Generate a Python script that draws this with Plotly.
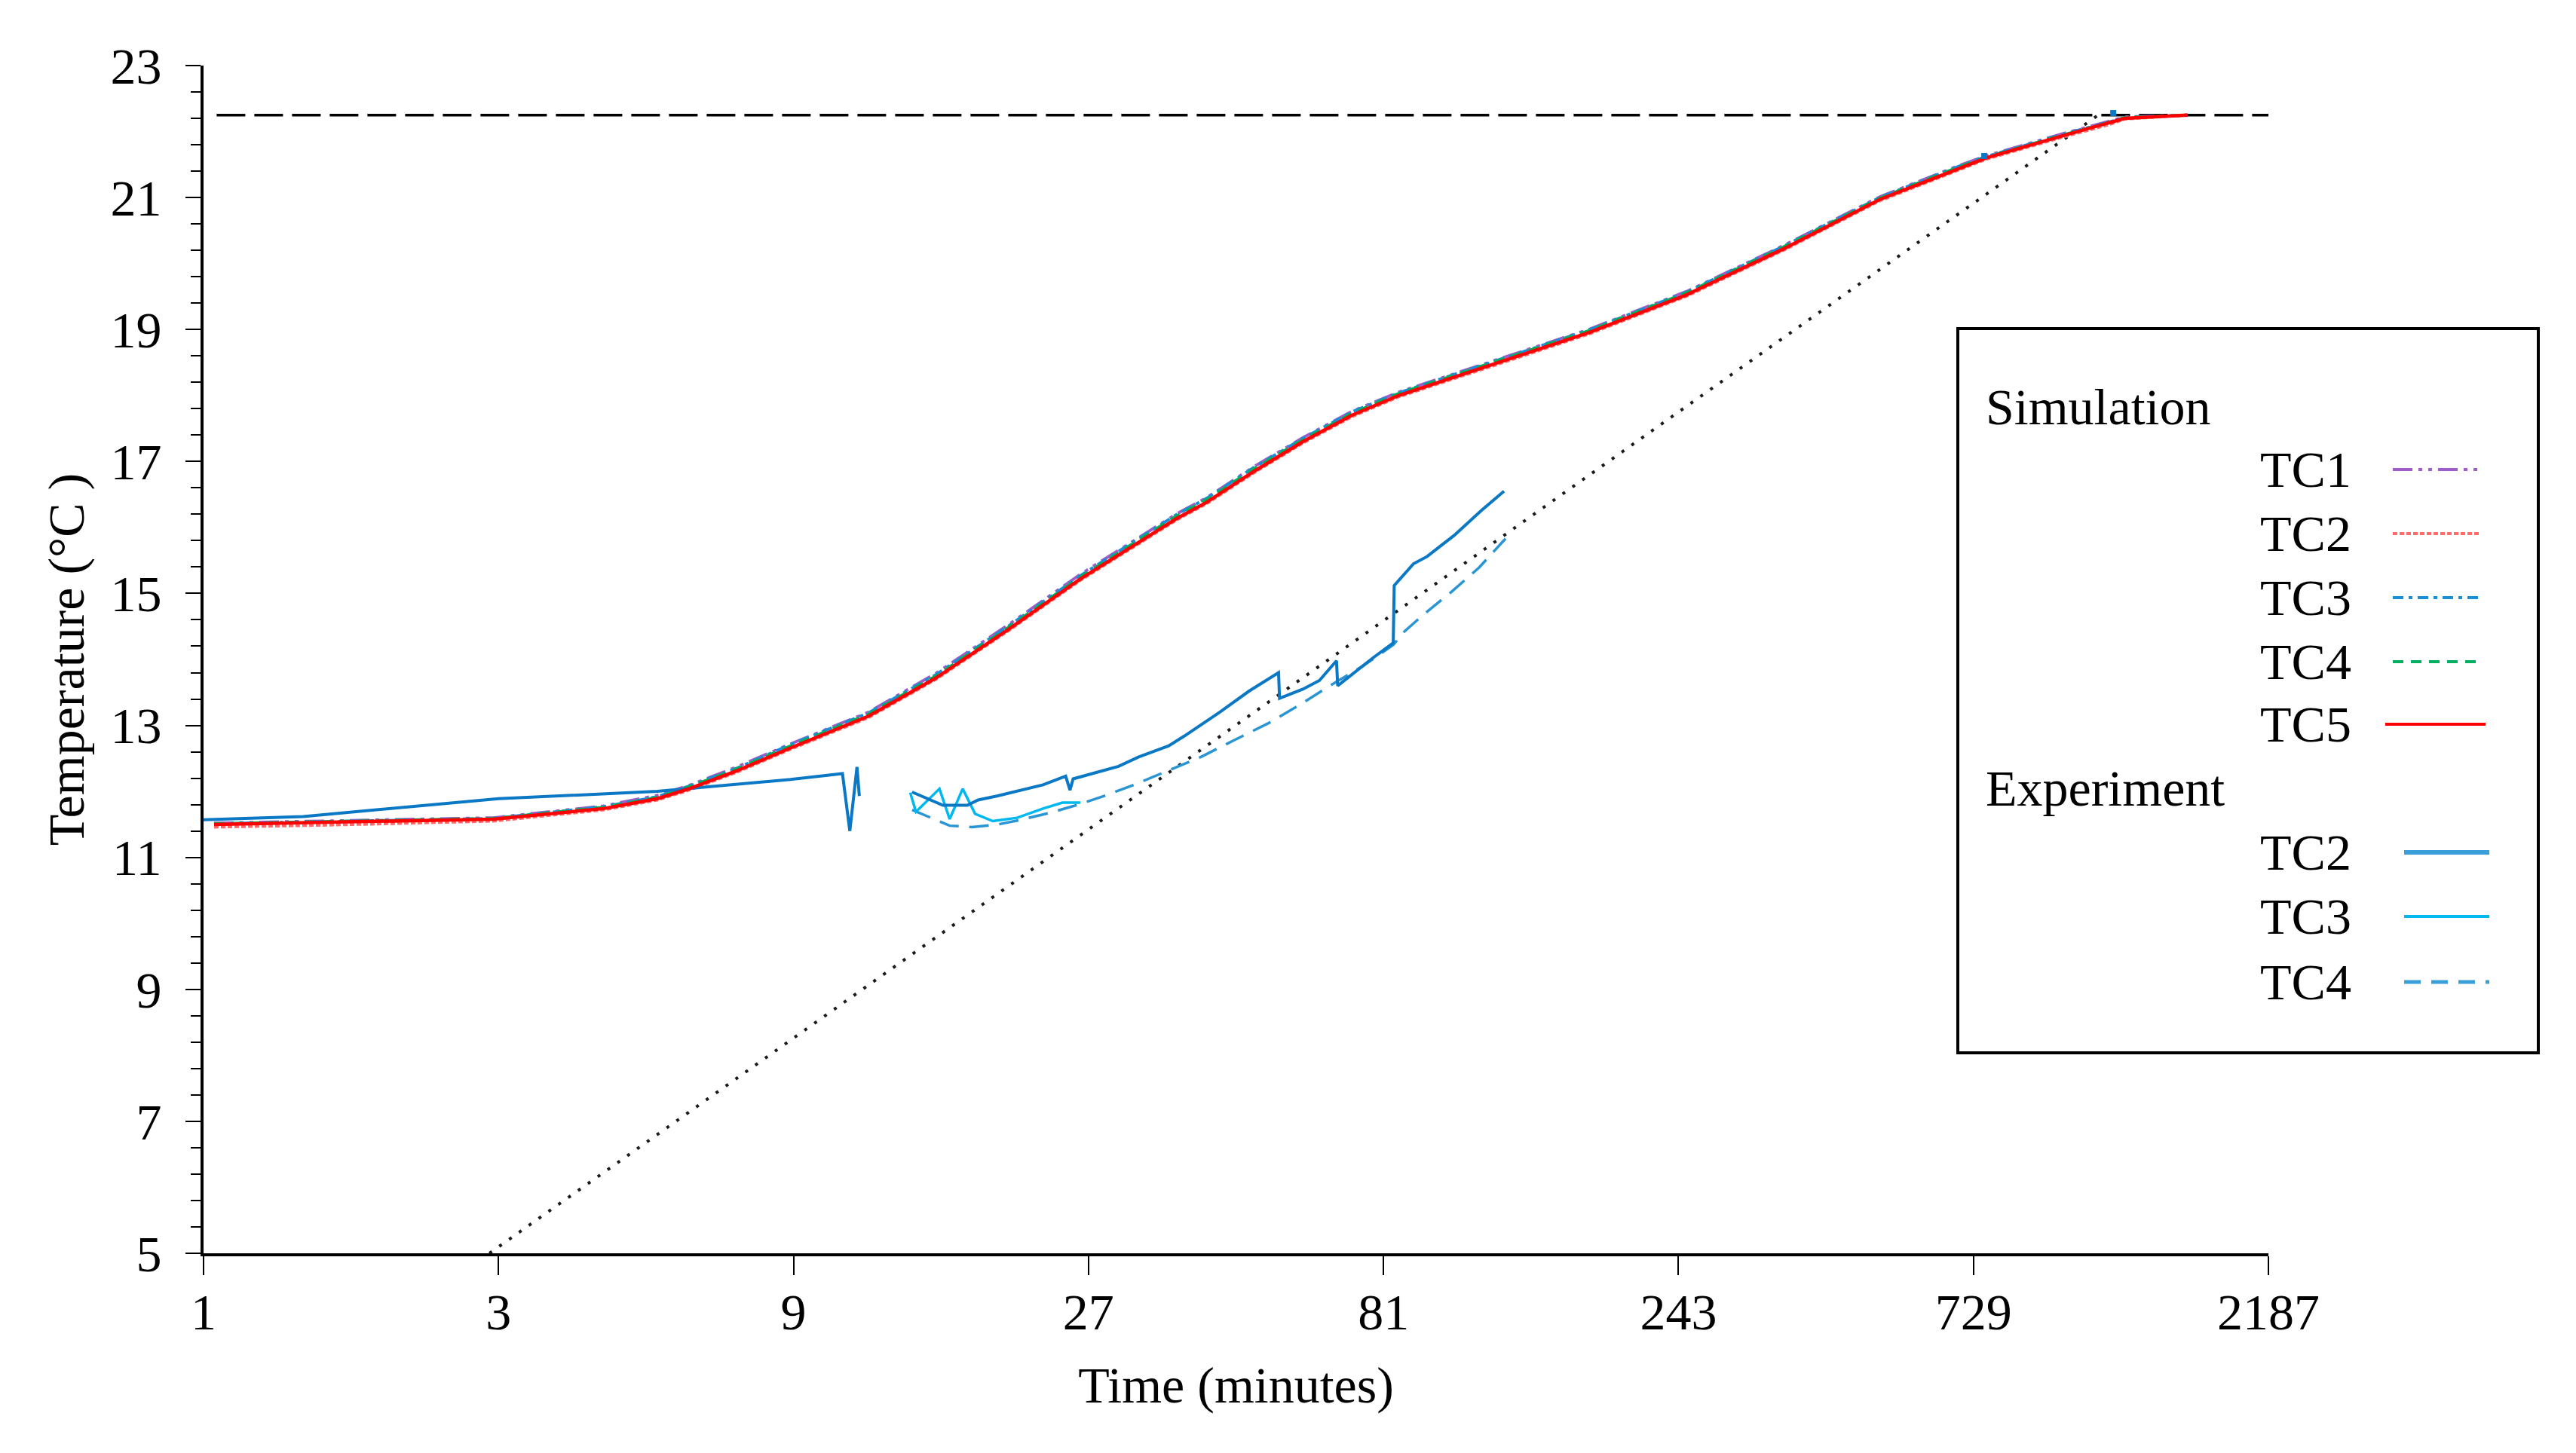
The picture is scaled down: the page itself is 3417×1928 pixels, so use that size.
import plotly.graph_objects as go

# ---------------- data ----------------
sim_time = [1.04, 1.59, 2.94, 4.44, 5.42, 6.10, 7.28, 8.85, 11.9, 15.3, 20.0, 26.2, 37.4,
            41.9, 50.0, 60.0, 72.0, 85.7, 122.7, 175, 251, 359, 514, 693, 764, 1019, 1213, 1280, 1619]
sim_tc5 = [11.50, 11.53, 11.58, 11.74, 11.89, 12.04, 12.31, 12.65, 13.14, 13.72, 14.45, 15.22, 16.13,
           16.38, 16.85, 17.30, 17.70, 18.00, 18.48, 18.96, 19.53, 20.22, 20.97, 21.45, 21.60, 21.94, 22.13, 22.20, 22.25]
sim_tc1 = [11.52, 11.55, 11.60, 11.78, 11.94, 12.09, 12.37, 12.71, 13.20, 13.79, 14.52, 15.29, 16.20,
           16.45, 16.92, 17.36, 17.76, 18.05, 18.53, 19.01, 19.58, 20.27, 21.01, 21.49, 21.63, 21.97, 22.16, 22.22, 22.25]
sim_tc2 = [11.46, 11.49, 11.55, 11.72, 11.87, 12.02, 12.29, 12.63, 13.12, 13.70, 14.43, 15.20, 16.11,
           16.36, 16.83, 17.28, 17.68, 17.98, 18.46, 18.94, 19.51, 20.20, 20.95, 21.43, 21.58, 21.92, 22.11, 22.19, 22.25]
sim_tc3 = [11.51, 11.54, 11.59, 11.77, 11.92, 12.08, 12.35, 12.70, 13.19, 13.77, 14.50, 15.27, 16.19,
           16.44, 16.91, 17.35, 17.75, 18.04, 18.52, 19.00, 19.57, 20.26, 21.00, 21.48, 21.62, 21.96, 22.15, 22.21, 22.25]
sim_tc4 = [11.51, 11.54, 11.59, 11.76, 11.91, 12.07, 12.34, 12.68, 13.17, 13.75, 14.48, 15.25, 16.17,
           16.42, 16.89, 17.33, 17.73, 18.03, 18.51, 18.99, 19.56, 20.25, 20.99, 21.47, 21.61, 21.95, 22.14, 22.21, 22.25]

exp_tc2_time = [1.0, 1.45, 3.0, 5.42, 8.9, 10.8, 11.1, 11.4, 11.5, None,
                14.0, 15.7, 17.2, 17.9, 19.2, 20.7, 22.8, 24.8, 25.2, 25.5, 27.5, 30.2, 32.5, 36.4,
                38.6, 44.0, 49.1, 54.8, 55.0, 60.0, 63.8, 68.0, 68.3, 77.8, 84.0, 84.3, 90.6, 95.3,
                105.4, 116.4, 126.9]
exp_tc2_temp = [11.57, 11.62, 11.89, 12.00, 12.18, 12.27, 11.40, 12.37, 11.93, None,
                11.99, 11.79, 11.79, 11.87, 11.93, 12.00, 12.10, 12.23, 12.02, 12.19, 12.27, 12.38, 12.52, 12.69,
                12.84, 13.20, 13.52, 13.80, 13.41, 13.55, 13.68, 13.98, 13.60, 14.02, 14.25, 15.12, 15.45, 15.56,
                15.88, 16.25, 16.55]
exp_tc2_late_time = [759, 1227]
exp_tc2_late_temp = [21.63, 22.28]

exp_tc3_time = [13.9, 14.2, 15.5, 16.1, 16.9, 17.7, 18.9, 20.7, 22.8, 24.5, 26.2]
exp_tc3_temp = [11.98, 11.69, 12.04, 11.58, 12.04, 11.66, 11.55, 11.60, 11.74, 11.83, 11.83]

exp_tc4_time = [14.0, 15.0, 16.1, 17.5, 19.3, 21.0, 23.5, 26.0, 29.0, 32.0, 36.4, 41.0, 46.3,
                52.7, 59.5, 67.1, 75.0, 84.0, 87.7, 93.5, 104.5, 115.6, 127.6]
exp_tc4_temp = [11.72, 11.60, 11.48, 11.46, 11.50, 11.57, 11.68, 11.80, 11.95, 12.10, 12.32, 12.52, 12.77,
                13.03, 13.32, 13.63, 13.90, 14.22, 14.43, 14.66, 15.03, 15.39, 15.83]

fit_time = [2.9, 1160]
fit_temp = [5.0, 22.25]
target_time = [1.05, 2187]
target_temp = [22.25, 22.25]

x_tickvals = [1, 3, 9, 27, 81, 243, 729, 2187]
x_ticktext = ["1", "3", "9", "27", "81", "243", "729", "2187"]
y_tickvals = [5, 7, 9, 11, 13, 15, 17, 19, 21, 23]

# ---------------- styling ----------------
FONT = "Times New Roman, Liberation Serif, serif"
OFF = 8                     # default page body margin
PAGE_W, PAGE_H = 3417, 1928
W, H = PAGE_W - 2 * OFF, PAGE_H - 2 * OFF
# plot area in page pixels
L, R, T, B = 270, 3009, 87, 1663

def px_x(px):
    return (px - L) / (R - L)

def px_y(py):
    return (B - py) / (B - T)

sim_styles = [
    ("TC1", sim_tc1, "#a05cc8", "26px,8px,5px,8px,5px,8px"),
    ("TC2", sim_tc2, "#ff6a6a", "6px,3px"),
    ("TC3", sim_tc3, "#1a8fd8", "14px,7px,5px,7px"),
    ("TC4", sim_tc4, "#00b060", "14px,10px"),
]

fig = go.Figure()

fig.add_trace(go.Scatter(x=target_time, y=target_temp, mode="lines",
                         line=dict(color="black", width=3.5, dash="38px,12px"),
                         showlegend=False, name="Target"))
fig.add_trace(go.Scatter(x=fit_time, y=fit_temp, mode="lines",
                         line=dict(color="#1a1a1a", width=4, dash="4px,12px"),
                         showlegend=False, name="Fit"))

for name, ys, col, dash in sim_styles:
    fig.add_trace(go.Scatter(x=sim_time, y=ys, mode="lines", name="Sim " + name,
                             line=dict(color=col, width=4, dash=dash), showlegend=False))

fig.add_trace(go.Scatter(x=exp_tc4_time, y=exp_tc4_temp, mode="lines", name="Exp TC4",
                         line=dict(color="#2a95d5", width=3.5, dash="26px,14px"), showlegend=False))
fig.add_trace(go.Scatter(x=exp_tc3_time, y=exp_tc3_temp, mode="lines", name="Exp TC3",
                         line=dict(color="#00b8f0", width=3.5), showlegend=False))
fig.add_trace(go.Scatter(x=exp_tc2_time, y=exp_tc2_temp, mode="lines", name="Exp TC2",
                         line=dict(color="#0a78c4", width=4), showlegend=False, connectgaps=False))

fig.add_trace(go.Scatter(x=sim_time, y=sim_tc5, mode="lines", name="Sim TC5",
                         line=dict(color="#ff0000", width=4.5), showlegend=False))
fig.add_trace(go.Scatter(x=exp_tc2_late_time, y=exp_tc2_late_temp, mode="markers", name="Exp TC2 late",
                         marker=dict(color="#0a78c4", size=8, symbol="square"), showlegend=False))

# ---------------- manual legend ----------------
shapes = []
annotations = []
shapes.append(dict(type="rect", xref="paper", yref="paper",
                   x0=px_x(2597), x1=px_x(3367), y0=px_y(1397), y1=px_y(436),
                   line=dict(color="black", width=4), fillcolor="white", layer="above"))

def label(text, px, py):
    annotations.append(dict(text=text, xref="paper", yref="paper", x=px_x(px), y=px_y(py),
                            xanchor="left", yanchor="middle", showarrow=False,
                            font=dict(family=FONT, size=68, color="black")))

def sample(y, x0, x1, col, width, dash):
    shapes.append(dict(type="line", xref="paper", yref="paper", x0=px_x(x0), x1=px_x(x1),
                       y0=px_y(y), y1=px_y(y), line=dict(color=col, width=width, dash=dash),
                       layer="above"))

label("Simulation", 2632, 540)
sim_rows = [623, 708, 793, 878]
for (name, _, col, dash), yy in zip(sim_styles, sim_rows):
    label(name, 2996, yy)
    sample(yy, 3174, 3291, col, 4, dash)
label("TC5", 2996, 961)
sample(961, 3164, 3297, "#ff0000", 4, "solid")

label("Experiment", 2632, 1046)
label("TC2", 2996, 1131)
sample(1131, 3189, 3302, "#3a9fd8", 6, "solid")
label("TC3", 2996, 1216)
sample(1216, 3189, 3302, "#00b8f0", 4, "solid")
label("TC4", 2996, 1303)
sample(1303, 3189, 3302, "#3a9fd8", 5, "22px,14px")

fig.update_layout(
    width=W, height=H,
    margin=dict(l=L - OFF, r=W - (R - OFF), t=T - OFF, b=H - (B - OFF), pad=0),
    paper_bgcolor="white", plot_bgcolor="white",
    font=dict(family=FONT, size=68, color="black"),
    shapes=shapes, annotations=annotations,
    showlegend=False,
)

fig.update_xaxes(
    type="log", range=[0, 3.33984], tickmode="array", tickvals=x_tickvals, ticktext=x_ticktext,
    showgrid=False, zeroline=False, showline=True, linecolor="black", linewidth=4,
    ticks="outside", ticklen=25, tickwidth=2, tickcolor="black",
    tickfont=dict(family=FONT, size=68), ticklabelstandoff=-10,
    title=dict(text="Time (minutes)", font=dict(family=FONT, size=68), standoff=37),
)
fig.update_yaxes(
    range=[5, 23], tickmode="array", tickvals=y_tickvals,
    showgrid=False, zeroline=False, showline=True, linecolor="black", linewidth=4,
    ticks="outside", ticklen=20, tickwidth=2, tickcolor="black",
    minor=dict(dtick=0.4, tick0=5, ticks="outside", ticklen=13, tickwidth=2, tickcolor="black", showgrid=False),
    tickfont=dict(family=FONT, size=68), ticklabelstandoff=18,
    title=dict(text="Temperature (°C )", font=dict(family=FONT, size=68), standoff=14),
)

fig.write_html("out.html")
